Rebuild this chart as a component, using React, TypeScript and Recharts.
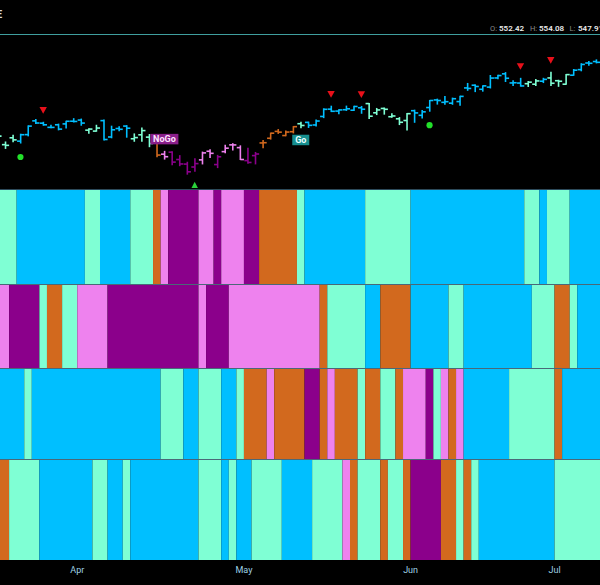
import React from 'react';
import { ComposedChart, Bar, XAxis, YAxis, ReferenceArea, Scatter } from 'recharts';

// ---- price data (one entry per trading day, Mar 14 .. Jul 9) ----
const opens = [516.97, 510.21, 514.0, 512.15, 515.77, 523.39, 522.11, 519.8, 521.23, 521.71, 523.21,
  523.83, 518.24, 517.72, 523.52, 514.46, 519.15, 520.5, 513.48, 515.68, 514.37, 515.13, 504.94, 506.05, 501.98, 499.44,
  497.83, 501.78, 506.56, 499.18, 506.35, 510.09, 508.56,
  501.38, 504.15, 511.16, 513.75, 517.56, 515.26, 517.38, 521.81, 522.56, 521.11, 525.83, 529.88, 528.81, 529.57, 529.28,
  530.65, 532.96, 527.85, 530.27, 525.68, 524.52, 523.59,
  529.02, 526.46, 530.77, 534.98, 533.66, 533.18, 534.07, 541.63, 543.15, 540.88, 542.08, 547.16, 549.44, 544.4, 544.33,
  543.99, 543.69, 545.37, 547.16,
  545.63, 543.7, 548.69, 551.77, 555.44, 556.26];
const highs = [517.13, 511.7, 515.48, 516.0, 520.62, 524.11, 522.61, 520.95, 521.58, 523.21, 524.61,
  524.38, 518.98, 520.95, 523.87, 520.44, 520.18, 520.75, 516.16, 519.48, 515.82, 515.3, 506.5, 506.22, 504.13, 500.46,
  502.38, 506.09, 507.37, 504.27, 509.88, 510.75, 509.56,
  508.19, 505.89, 512.55, 516.61, 518.57, 517.74, 520.21, 522.64, 522.67, 523.83, 530.08, 531.52, 529.52, 531.56, 531.52,
  531.38, 533.07, 530.27, 530.51, 527.31, 525.2, 527.5,
  529.31, 529.15, 534.69, 535.42, 536.89, 535.99, 537.01, 544.12, 543.33, 542.81, 548.53, 548.62, 550.12, 545.65, 546.95,
  545.2, 546.24, 546.96, 550.28,
  545.88, 549.01, 551.83, 555.05, 556.25, 557.18];
const lows = [511.82, 508.12, 511.88, 511.12, 515.08, 521.91, 520.97, 519.61, 518.4, 519.49, 522.78,
  520.97, 516.48, 517.67, 512.76, 514.01, 517.89, 514.35, 512.09, 512.08, 509.08, 503.58, 502.21, 499.12, 498.56, 493.86,
  495.43, 499.53, 503.13, 497.49, 505.7, 507.25, 501.98,
  499.87, 499.55, 508.56, 513.3, 516.45, 515.14, 516.71, 519.59, 519.74, 520.56, 525.18, 528.54, 527.32, 529.17, 529.07,
  527.6, 524.72, 526.88, 527.11, 525.37, 521.33, 518.36,
  522.6, 524.96, 528.73, 532.68, 532.54, 532.57, 532.05, 540.3, 539.59, 539.85, 541.61, 546.73, 545.18, 543.02, 542.62,
  542.44, 543.03, 544.61, 542.95,
  542.52, 543.65, 548.65, 551.12, 554.19, 555.52];
const closes = [514.95, 509.83, 512.86, 515.71, 520.48, 522.2, 521.21, 519.77, 518.81, 523.17, 523.07,
  522.16, 518.84, 519.41, 513.07, 518.43, 518.72, 519.32, 514.12, 518.0, 510.85, 504.45, 503.53, 500.55, 499.52, 495.16,
  499.72, 505.65, 505.41, 503.49, 508.26, 510.06, 501.98,
  500.35, 505.03, 511.29, 516.57, 517.14, 517.19, 520.17, 520.84, 520.91, 523.3, 529.78, 528.69, 529.45, 530.06, 531.36,
  529.83, 525.96, 529.44, 529.81, 526.1, 522.61, 527.37,
  527.8, 528.39, 534.67, 534.66, 534.01, 535.66, 536.95, 541.36, 542.45, 542.78, 547.1, 548.49, 547.0, 544.51, 542.74,
  544.83, 545.51, 546.37, 544.22,
  545.34, 549.01, 551.46, 554.64, 555.28, 555.82];

// ---- trend colour codes per bar for each panel (L aqua, B blue, O orange, P pink, M purple) ----
const trend1 = 'LLL BBBBBBBBB LL BBBB LLL O P MMMM PP M PPP MM OOOOO L BBBBBBBB LLLLLL BBBBBBBBBBBBBBB LL B LLL BBBB'.replace(/ /g, '').split('');
const trend2 = 'PP MMMM L OO LL PPPP MMMMMMMMMMMM P MMM PPPPPPPPPPPP O LLLLL BB OOOO BBBBB LL BBBBBBBBB LLL OO L BBB'.replace(/ /g, '').split('');
const trend3 = 'BBBB L BBBBBBBBBBBBBBBBB LLL BB LLL BB L OOO P OOOO MM O P OOO L OO LL O PPP M L P O P BBBBBB LLLLLL O BBBBB'.replace(/ /g, '').split('');
const trend4 = 'OO LLLL BBBBBBB LL BB L BBBBBBBBB LLL B L BB LLLL BBBB LLLL P O LLL O LL O MMMM OO L O L BBBBBBBBBB LLLLLL'.replace(/ /g, '').split('');

// ---- signals ----
const sellSignalIdx = [6, 44, 48, 69, 73];
const buyDotIdx = [3, 57];
const upTriangleIdx = [26];
const signalLabels = [
  { i: 22, text: 'NoGo', kind: 'nogo' },
  { i: 40, text: 'Go', kind: 'go' },
];

// ---- axis ----
const monthTickIdx = [11, 33, 55, 74];
const monthLabels = ['Apr', 'May', 'Jun', 'Jul'];

const header = { o: '552.42', h: '554.08', l: '547.91' };

const COLORS: Record<string, string> = {
  L: '#7fffd4',
  B: '#00bfff',
  O: '#d2691e',
  P: '#ee82ee',
  M: '#8b008b',
};

const X_DOMAIN: [number, number] = [0.8, 80];
const Y_DOMAIN: [number, number] = [486.2, 570.4];
const FONT = 'Roboto, "Open Sans", sans-serif';
const SEP = '#4a6878';

const priceData = opens.map((o, i) => ({
  x: i + 0.5,
  open: o,
  high: highs[i],
  low: lows[i],
  close: closes[i],
  range: [lows[i], highs[i]],
  trend: trend1[i],
}));

const sellData = sellSignalIdx.map((i) => ({ x: i + 0.5, y: highs[i] }));
const buyData = buyDotIdx.map((i) => ({ x: i + 0.5, y: lows[i] }));
const upData = upTriangleIdx.map((i) => ({ x: i + 0.5, y: lows[i] }));
const labelData = signalLabels.map((s) => ({
  x: s.i + 0.5,
  y: s.kind === 'go' ? lows[s.i] : highs[s.i],
  text: s.text,
  kind: s.kind,
}));

type Run = { start: number; end: number; code: string };
const toRuns = (codes: string[]): Run[] => {
  const out: Run[] = [];
  codes.forEach((c, i) => {
    const last = out[out.length - 1];
    if (last && last.code === c) last.end = i + 1;
    else out.push({ start: i, end: i + 1, code: c });
  });
  return out;
};

const ok = (...v: any[]) => v.every((n) => typeof n === 'number' && !isNaN(n));

const OhlcShape = (props: any) => {
  const { x, y, width, height, payload } = props;
  if (!ok(x, y, width, height) || !payload) return null;
  const { open, high, low, close, trend } = payload;
  const cx = x + width / 2;
  const span = high - low || 1;
  const py = (v: number) => y + ((high - v) / span) * height;
  const color = COLORS[trend] || '#fff';
  return (
    <g stroke={color} strokeWidth={1.6}>
      <line x1={cx} x2={cx} y1={y - 0.5} y2={y + height + 0.5} />
      <line x1={cx - 3.6} x2={cx} y1={py(open)} y2={py(open)} />
      <line x1={cx} x2={cx + 3.6} y1={py(close)} y2={py(close)} />
    </g>
  );
};

const RedTriangle = (p: any) => {
  const { cx, cy } = p;
  if (!ok(cx, cy)) return null;
  return <polygon points={`${cx - 3.7},${cy - 15.2} ${cx + 3.7},${cy - 15.2} ${cx},${cy - 8.5}`} fill="#e8101a" />;
};

const GreenDot = (p: any) => {
  const { cx, cy } = p;
  if (!ok(cx, cy)) return null;
  return <circle cx={cx} cy={cy + 14} r={3.1} fill="#22e02a" />;
};

const GreenUp = (p: any) => {
  const { cx, cy } = p;
  if (!ok(cx, cy)) return null;
  return <polygon points={`${cx},${cy + 10.5} ${cx - 3.4},${cy + 17} ${cx + 3.4},${cy + 17}`} fill="#2ad23a" />;
};

const SignalLabel = (p: any) => {
  const { cx, cy, payload } = p;
  if (!ok(cx, cy) || !payload) return null;
  const isGo = payload.kind === 'go';
  const w = isGo ? 17 : 28;
  const top = isGo ? cy + 7 : cy - 17.5;
  return (
    <g>
      <rect x={cx - w / 2} y={top} width={w} height={10.5} fill={isGo ? '#168e8e' : '#8a1f8a'} />
      <text x={cx} y={top + 8.4} textAnchor="middle" fontSize={9} fontWeight={700} fontFamily={FONT}
        fill={isGo ? '#eaffff' : '#ffe4ff'}>
        {payload.text}
      </text>
    </g>
  );
};

const BandPanel = ({ codes, top, height, showAxis }: { codes: string[]; top: number; height: number; showAxis?: boolean }) => (
  <div style={{ position: 'absolute', left: 0, top }} className="bands">
    <ComposedChart width={600} height={height + (showAxis ? 25 : 0)} data={priceData}
      margin={{ top: 0, right: 0, bottom: 0, left: 0 }}>
      <XAxis type="number" dataKey="x" domain={X_DOMAIN} allowDataOverflow hide={!showAxis}
        ticks={monthTickIdx} interval={0} height={25} axisLine={false} tickLine={false} tickMargin={1}
        tickFormatter={(v: number) => monthLabels[monthTickIdx.indexOf(v)] ?? ''}
        tick={{ fill: '#9fd2e4', fontSize: 9, fontFamily: FONT }} />
      <YAxis type="number" domain={[0, 1]} allowDataOverflow hide />
      {toRuns(codes).map((r, k) => (
        <ReferenceArea key={k} x1={r.start} x2={r.end} y1={0} y2={1} fill={COLORS[r.code]} fillOpacity={1}
          stroke="none" ifOverflow="hidden" />
      ))}
    </ComposedChart>
  </div>
);

export default function App() {
  return (
    <div style={{ position: 'absolute', left: 0, top: 0, width: 600, height: 585, background: '#000', overflow: 'hidden', fontFamily: FONT }}>
      <style>{`.bands rect{shape-rendering:crispEdges}`}</style>
      {/* top-left cropped title glyph */}
      <div style={{ position: 'absolute', left: -4, top: 8, color: '#dcdcdc', fontSize: 11, fontWeight: 700 }}>E</div>
      {/* header OHL */}
      <div style={{ position: 'absolute', left: 490, top: 24, fontSize: 7.5, color: '#8c8c8c', lineHeight: '10px' }}>O:</div>
      <div style={{ position: 'absolute', left: 499, top: 24, fontSize: 8, color: '#ececec', fontWeight: 600, lineHeight: '10px' }}>{header.o}</div>
      <div style={{ position: 'absolute', left: 530, top: 24, fontSize: 7.5, color: '#8c8c8c', lineHeight: '10px' }}>H:</div>
      <div style={{ position: 'absolute', left: 539, top: 24, fontSize: 8, color: '#ececec', fontWeight: 600, lineHeight: '10px' }}>{header.h}</div>
      <div style={{ position: 'absolute', left: 569.5, top: 24, fontSize: 7.5, color: '#8c8c8c', lineHeight: '10px' }}>L:</div>
      <div style={{ position: 'absolute', left: 578, top: 24, fontSize: 8, color: '#ececec', fontWeight: 600, lineHeight: '10px', whiteSpace: 'nowrap' }}>{header.l}</div>
      <div style={{ position: 'absolute', left: 0, top: 34, width: 600, height: 1, background: '#3f9e9e' }} />

      {/* price panel */}
      <div style={{ position: 'absolute', left: 0, top: 36 }}>
        <ComposedChart width={600} height={152} data={priceData} margin={{ top: 0, right: 0, bottom: 0, left: 0 }}>
          <XAxis type="number" dataKey="x" domain={X_DOMAIN} allowDataOverflow hide />
          <YAxis type="number" domain={Y_DOMAIN} allowDataOverflow hide />
          <Bar dataKey="range" barSize={6} shape={OhlcShape} isAnimationActive={false} />
          <Scatter data={sellData} dataKey="y" shape={RedTriangle} isAnimationActive={false} />
          <Scatter data={buyData} dataKey="y" shape={GreenDot} isAnimationActive={false} />
          <Scatter data={upData} dataKey="y" shape={GreenUp} isAnimationActive={false} />
          <Scatter data={labelData} dataKey="y" shape={SignalLabel} isAnimationActive={false} />
        </ComposedChart>
      </div>

      {/* separators */}
      <div style={{ position: 'absolute', left: 0, top: 189, width: 600, height: 1, background: '#2c4a5a' }} />
      <div style={{ position: 'absolute', left: 0, top: 284, width: 600, height: 1, background: SEP }} />
      <div style={{ position: 'absolute', left: 0, top: 368, width: 600, height: 1, background: SEP }} />
      <div style={{ position: 'absolute', left: 0, top: 459, width: 600, height: 1, background: SEP }} />

      <BandPanel codes={trend1} top={190} height={94} />
      <BandPanel codes={trend2} top={285} height={83} />
      <BandPanel codes={trend3} top={369} height={90} />
      <BandPanel codes={trend4} top={460} height={100} showAxis />
    </div>
  );
}
